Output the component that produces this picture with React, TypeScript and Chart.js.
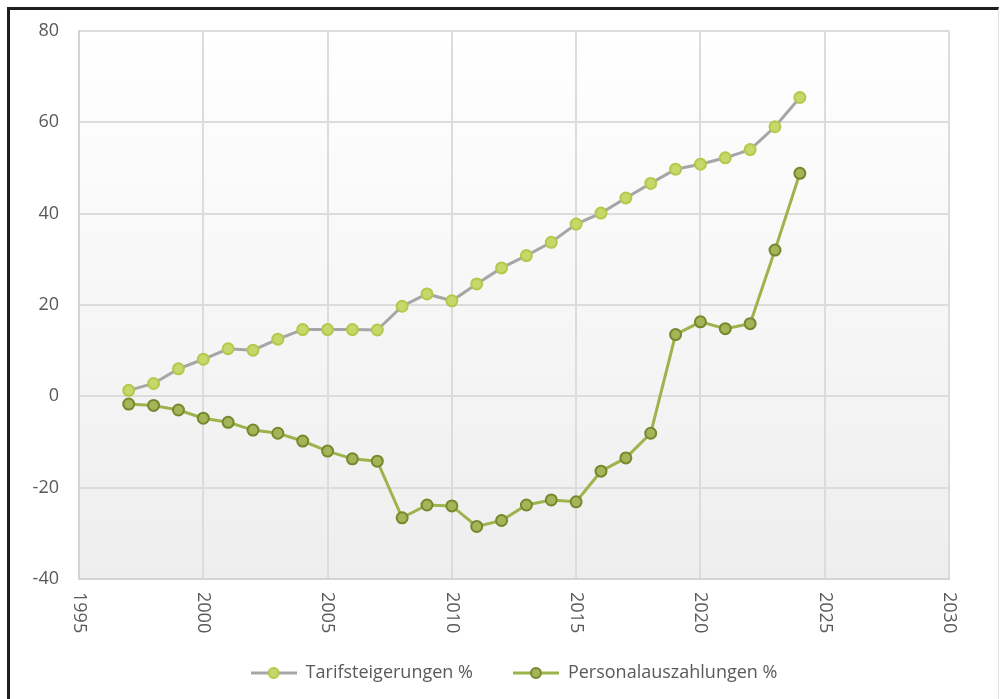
import React, { useEffect, useRef } from "react";
import { Chart, registerables } from "chart.js";

Chart.register(...registerables);

const years = [1997, 1998, 1999, 2000, 2001, 2002, 2003, 2004, 2005, 2006, 2007, 2008, 2009, 2010, 2011, 2012, 2013, 2014, 2015, 2016, 2017, 2018, 2019, 2020, 2021, 2022, 2023, 2024];
const tarifsteigerungen = [1.3, 2.8, 6.0, 8.1, 10.4, 10.1, 12.5, 14.6, 14.6, 14.6, 14.5, 19.7, 22.4, 20.9, 24.6, 28.1, 30.8, 33.7, 37.7, 40.1, 43.4, 46.6, 49.7, 50.8, 52.2, 54.0, 59.0, 65.4];
const personalauszahlungen = [-1.7, -2.0, -3.0, -4.8, -5.7, -7.4, -8.1, -9.8, -12.0, -13.7, -14.2, -26.6, -23.8, -24.0, -28.5, -27.2, -23.8, -22.7, -23.1, -16.4, -13.5, -8.1, 13.5, 16.3, 14.8, 15.9, 32.0, 48.8];
const seriesNames = ["Tarifsteigerungen %", "Personalauszahlungen %"];
const xTickStart = 1995;
const xTickEnd = 2030;
const xTickStep = 5;
const yTickMin = -40;
const yTickMax = 80;
const yTickStep = 20;

const FONT = "'Open Sans', sans-serif";
const TEXT_COLOR = "#595959";

function makeLegendIcon(lineColor: string, fill: string, stroke: string): HTMLCanvasElement {
  const c = document.createElement("canvas");
  c.width = 46;
  c.height = 16;
  const ctx = c.getContext("2d")!;
  ctx.strokeStyle = lineColor;
  ctx.lineWidth = 3;
  ctx.beginPath();
  ctx.moveTo(0, 8);
  ctx.lineTo(46, 8);
  ctx.stroke();
  ctx.beginPath();
  ctx.arc(23, 8, 5, 0, Math.PI * 2);
  ctx.fillStyle = fill;
  ctx.fill();
  ctx.lineWidth = 2;
  ctx.strokeStyle = stroke;
  ctx.stroke();
  return c;
}

export default function App() {
  const ref = useRef<HTMLCanvasElement | null>(null);

  useEffect(() => {
    if (!ref.current) return;
    const icons = [
      makeLegendIcon("#a6a6a6", "#c5d86a", "#b3c94c"),
      makeLegendIcon("#9db44c", "#a3b556", "#75882e"),
    ];

    const bgPlugin = {
      id: "plotBg",
      beforeDraw(chart: any) {
        const { ctx, chartArea } = chart;
        const g = ctx.createLinearGradient(0, chartArea.top, 0, chartArea.bottom);
        g.addColorStop(0, "#ffffff");
        g.addColorStop(1, "#eeeeee");
        ctx.save();
        ctx.fillStyle = g;
        ctx.fillRect(chartArea.left, chartArea.top, chartArea.right - chartArea.left, chartArea.bottom - chartArea.top);
        ctx.restore();
      },
    };

    const xLabelPlugin = {
      id: "xLabels",
      afterDraw(chart: any) {
        const { ctx, chartArea } = chart;
        const xs = chart.scales.x;
        ctx.save();
        ctx.fillStyle = TEXT_COLOR;
        ctx.font = `18px ${FONT}`;
        ctx.textAlign = "left";
        ctx.textBaseline = "middle";
        xs.ticks.forEach((t: any) => {
          const px = xs.getPixelForValue(t.value);
          ctx.save();
          ctx.translate(px, chartArea.bottom + 13);
          ctx.rotate(Math.PI / 2);
          ctx.fillText(String(t.value), 0, 0);
          ctx.restore();
        });
        ctx.restore();
      },
    };

    const chart = new Chart(ref.current, {
      type: "line",
      data: {
        datasets: [
          {
            label: seriesNames[0],
            data: years.map((y, i) => ({ x: y, y: tarifsteigerungen[i] })),
            borderColor: "#a6a6a6",
            borderWidth: 3,
            pointRadius: 5.5,
            pointBackgroundColor: "#c5d86a",
            pointBorderColor: "#b3c94c",
            pointBorderWidth: 2,
            tension: 0,
          },
          {
            label: seriesNames[1],
            data: years.map((y, i) => ({ x: y, y: personalauszahlungen[i] })),
            borderColor: "#9db44c",
            borderWidth: 3,
            pointRadius: 5.5,
            pointBackgroundColor: "#a3b556",
            pointBorderColor: "#75882e",
            pointBorderWidth: 2,
            tension: 0,
          },
        ],
      },
      options: {
        animation: false,
        responsive: true,
        maintainAspectRatio: false,
        layout: { padding: { left: 0, top: 28, right: 54, bottom: 7 } },
        scales: {
          x: {
            type: "linear",
            min: xTickStart,
            max: xTickEnd,
            ticks: { stepSize: xTickStep, display: false },
            grid: { color: "#dcdcdc", lineWidth: 2, drawTicks: false },
            border: { color: "#d4d4d4", width: 2 },
            afterFit: (s: any) => {
              s.height = 45;
            },
          },
          y: {
            min: yTickMin,
            max: yTickMax,
            ticks: {
              stepSize: yTickStep,
              color: TEXT_COLOR,
              font: { family: FONT, size: 18 },
              padding: 20,
            },
            grid: { color: "#dcdcdc", lineWidth: 2, drawTicks: false },
            border: { color: "#d4d4d4", width: 2 },
            afterFit: (s: any) => {
              s.width = 79;
            },
          },
        },
        plugins: {
          tooltip: { enabled: false },
          legend: {
            position: "bottom",
            fullSize: false,
            labels: {
              usePointStyle: true,
              pointStyleWidth: 46,
              padding: 40,
              color: TEXT_COLOR,
              font: { family: FONT, size: 18 },
              generateLabels: (c: any) => {
                const items = Chart.defaults.plugins.legend.labels.generateLabels(c);
                return items.map((it: any, i: number) => ({ ...it, pointStyle: icons[i] }));
              },
            },
          },
        },
      },
      plugins: [bgPlugin, xLabelPlugin],
    } as any);

    return () => chart.destroy();
  }, []);

  return (
    <div style={{ position: "fixed", left: 0, top: 0, width: 1003, height: 699, background: "#ffffff", overflow: "hidden" }}>
      <div
        style={{
          position: "absolute",
          left: 7,
          top: 7,
          width: 992,
          height: 720,
          boxSizing: "border-box",
          borderTop: "3px solid #1e1e1e",
          borderLeft: "3px solid #1e1e1e",
          borderRight: "1px solid #e2e2e2",
        }}
      />
      <div style={{ position: "absolute", left: 0, top: 0, width: 1003, height: 699 }}>
        <canvas ref={ref} />
      </div>
    </div>
  );
}
